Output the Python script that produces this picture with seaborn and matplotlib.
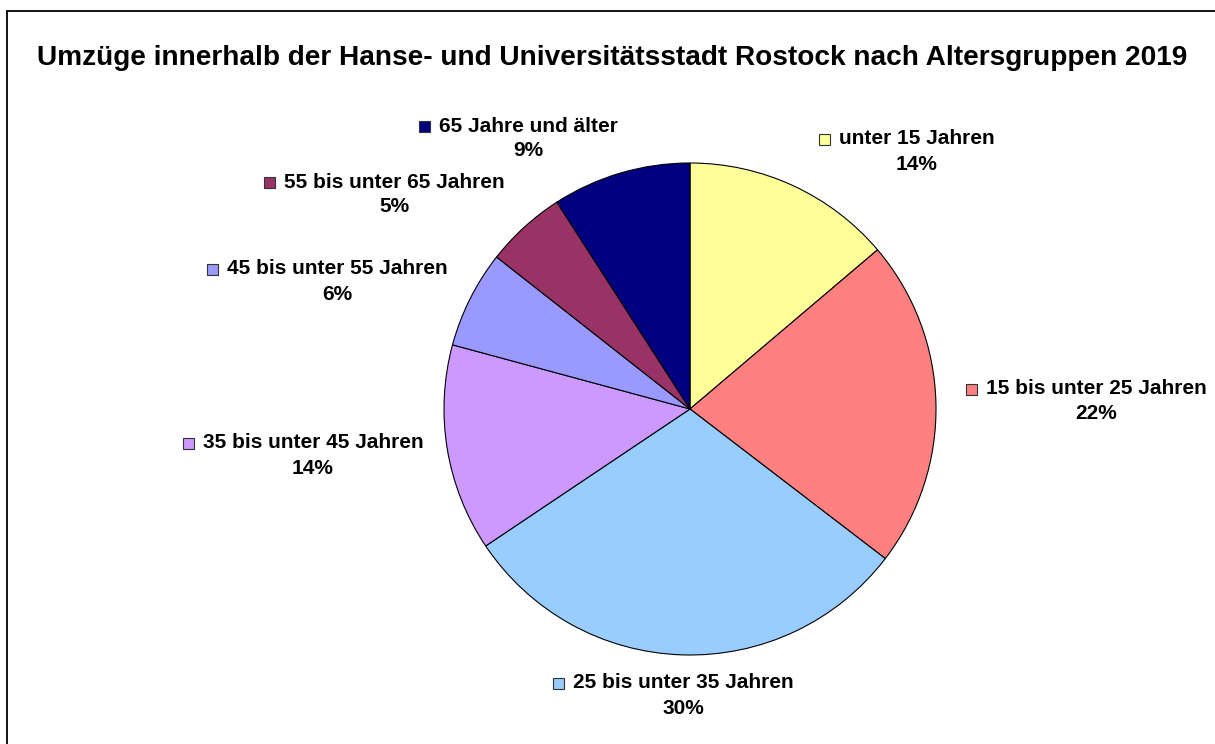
import matplotlib
matplotlib.use("Agg")
import matplotlib.pyplot as plt
from matplotlib.patches import Rectangle
from matplotlib.lines import Line2D
import seaborn as sns

# ---- data ----
categories = ["unter 15 Jahren", "15 bis unter 25 Jahren", "25 bis unter 35 Jahren",
              "35 bis unter 45 Jahren", "45 bis unter 55 Jahren", "55 bis unter 65 Jahren",
              "65 Jahre und älter"]
shares = [13.8, 21.6, 30.2, 13.6, 6.4, 5.3, 9.1]
pct_labels = ["14%", "22%", "30%", "14%", "6%", "5%", "9%"]
colors = ["#FFFF99", "#FF8080", "#99CCFF", "#CC99FF", "#9999FF", "#993366", "#000080"]
title = "Umzüge innerhalb der Hanse- und Universitätsstadt Rostock nach Altersgruppen 2019"

# ---- layout (pixel positions of label text centers) ----
label_pos = [(917, 139), (1096, 389), (683, 683), (313, 443), (337, 269), (394, 182), (528, 126)]

sns.set_theme(style="white")
plt.rcParams['font.family'] = ['Liberation Sans', 'DejaVu Sans']
plt.rcParams['text.color'] = 'black'

W, H = 1215, 744
fig = plt.figure(figsize=(W / 100, H / 100), dpi=100)
fig.patch.set_facecolor("white")

def fx(x):
    return x / W

def fy(y):
    return 1 - y / H

# frame (left and top lines)
fig.add_artist(Line2D([fx(7), fx(7)], [fy(11), 0], color="black", lw=1.3))
fig.add_artist(Line2D([fx(7), 1], [fy(11), fy(11)], color="black", lw=1.3))

fig.text(fx(612), fy(58), title, ha="center", va="center", fontsize=20.2, fontweight="bold")

cx, cy, r = 690, 409, 246
ax = fig.add_axes([fx(cx - r), fy(cy + r), 2 * r / W, 2 * r / H])
ax.pie(shares, colors=sns.color_palette(colors), startangle=90, counterclock=False,
       radius=1, wedgeprops=dict(edgecolor="black", linewidth=0.8))
ax.set_xlim(-1, 1)
ax.set_ylim(-1, 1)
ax.set_aspect("auto")
ax.axis("off")

fs = 15
renderer = fig.canvas.get_renderer()
for cat, pct, col, (x, y) in zip(categories, pct_labels, colors, label_pos):
    t = fig.text(fx(x), fy(y), cat, ha="center", va="center", fontsize=fs, fontweight="bold")
    fig.text(fx(x), fy(y + 25), pct, ha="center", va="center", fontsize=fs, fontweight="bold")
    bb = t.get_window_extent(renderer=renderer)
    left_px = bb.x0
    sq = 11
    fig.add_artist(Rectangle(((left_px - 20) / W, fy(y) - sq / 2 / H), sq / W, sq / H,
                             facecolor=col, edgecolor="#333333", linewidth=0.8,
                             transform=fig.transFigure))

fig.savefig("out.png", dpi=100, facecolor="white")
